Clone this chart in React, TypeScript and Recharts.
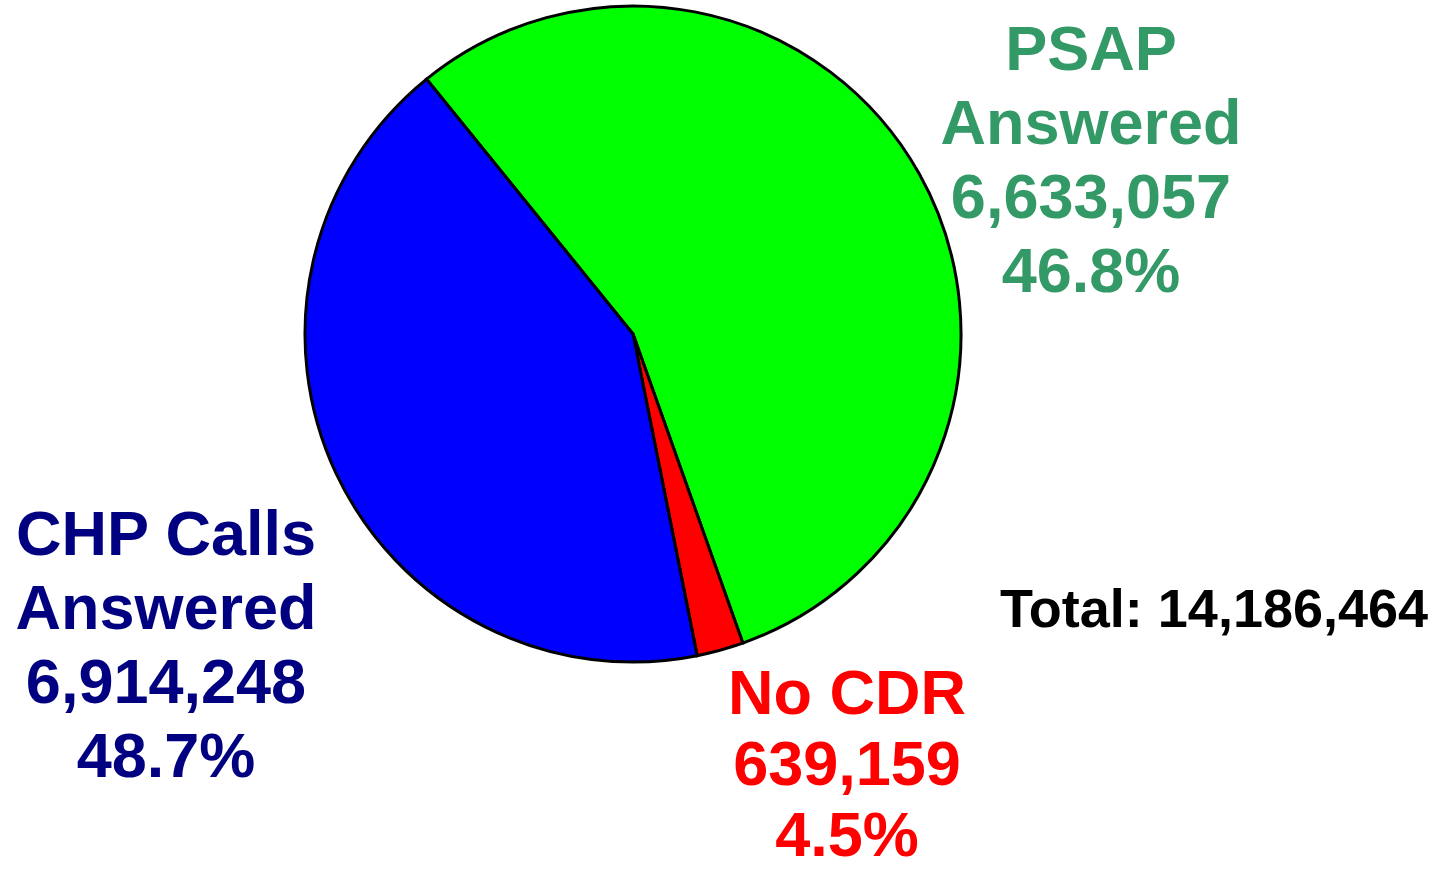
import { PieChart, Pie, Cell } from 'recharts';

// Slices in clockwise order, starting from the blue/green border at upper left
const categories = ['PSAP Answered', 'No CDR', 'CHP Calls Answered'];
const callCounts = [6633057, 639159, 6914248];
const percentLabels = ['46.8%', '4.5%', '48.7%'];
// Slice shares as they are drawn in the picture (degrees of arc / 3.6)
const drawnShare = [55.4, 2.3, 42.3];

const sliceColors = ['#00FF00', '#FF0000', '#0000FF'];
const labelColors = ['#339966', '#FF0000', '#000080'];

const FONT = '"Liberation Sans", Arial, sans-serif';

const pieData = categories.map((name, i) => ({ name, share: drawnShare[i] }));

const fmt = (n: number) => n.toLocaleString('en-US');

function LabelBlock({ lines, x, y, color, size = 63, lh = 74 }: {
  lines: string[]; x: number; y: number; color: string; size?: number; lh?: number;
}) {
  return (
    <text x={x} y={y} fill={color} fontFamily={FONT} fontWeight="bold" fontSize={size} textAnchor="middle">
      {lines.map((l, i) => (
        <tspan key={i} x={x} dy={i === 0 ? 0 : lh}>{l}</tspan>
      ))}
    </text>
  );
}

export default function App() {
  const total = callCounts.reduce((a, b) => a + b, 0);
  return (
    <div style={{ position: 'absolute', left: 0, top: 0, width: 1445, height: 871, background: '#fff' }}>
      <PieChart width={1445} height={871} margin={{ top: 0, right: 0, bottom: 0, left: 0 }}>
        <Pie
          data={pieData}
          dataKey="share"
          nameKey="name"
          cx={633}
          cy={334}
          outerRadius={328}
          startAngle={129}
          endAngle={-231}
          stroke="#000"
          strokeWidth={3}
          isAnimationActive={false}
          label={false}
          labelLine={false}
        >
          {pieData.map((d, i) => (
            <Cell key={d.name} fill={sliceColors[i]} />
          ))}
        </Pie>
      </PieChart>
      <svg width={1445} height={871} style={{ position: 'absolute', left: 0, top: 0, pointerEvents: 'none' }}>
        <LabelBlock lines={['PSAP', 'Answered', fmt(callCounts[0]), percentLabels[0]]} x={1091} y={70} color={labelColors[0]} />
        <LabelBlock lines={['CHP Calls', 'Answered', fmt(callCounts[2]), percentLabels[2]]} x={166} y={555} color={labelColors[2]} />
        <LabelBlock lines={['No CDR', fmt(callCounts[1]), percentLabels[1]]} x={847} y={714} color={labelColors[1]} lh={71} />
        <text x={1214} y={627} fill="#000" fontFamily={FONT} fontWeight="bold" fontSize={54} textAnchor="middle">
          {`Total: ${fmt(total)}`}
        </text>
      </svg>
    </div>
  );
}
